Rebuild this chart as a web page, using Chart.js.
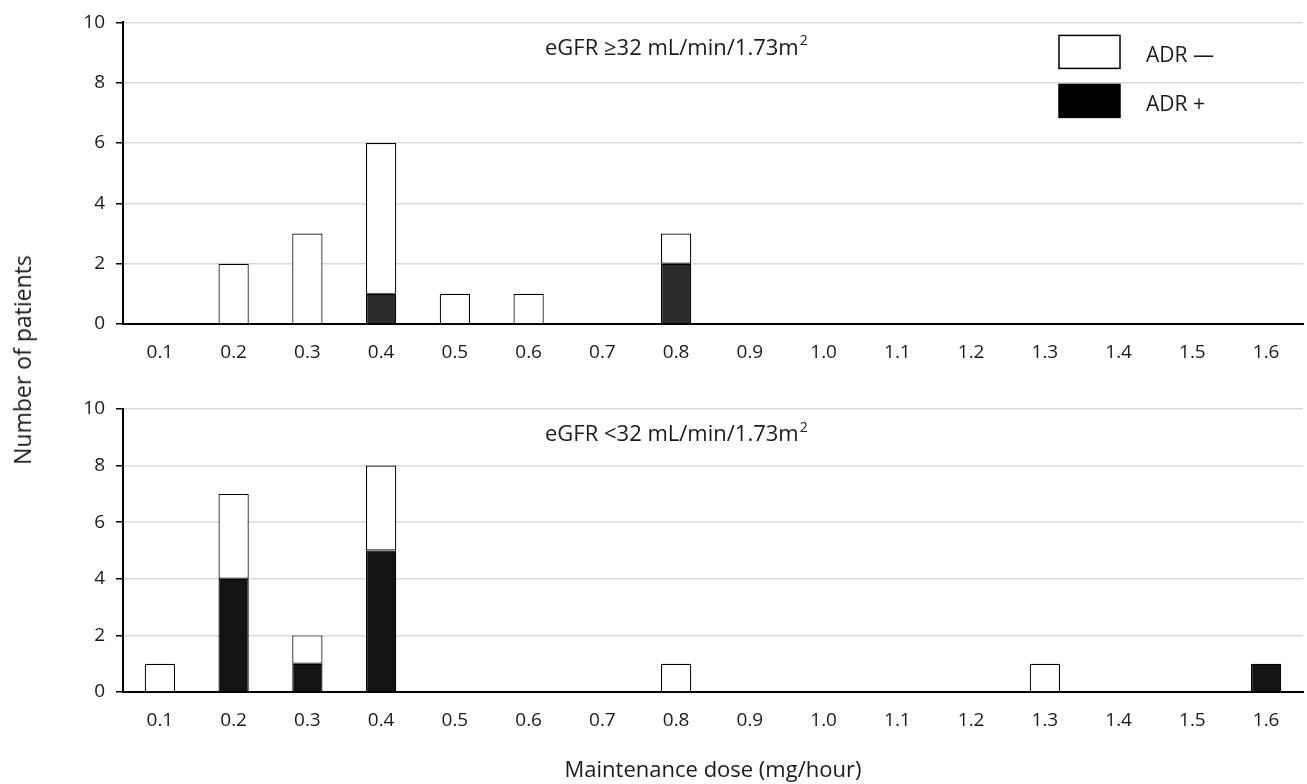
<!DOCTYPE html>
<html>
<head>
<meta charset="utf-8">
<script src="https://cdn.jsdelivr.net/npm/chart.js@4/dist/chart.umd.min.js"></script>
<style>
  body { margin: 0; background: #fff; width: 1307px; height: 784px; position: relative; overflow: hidden; }
  #top { position: absolute; left: 0; top: 0; }
  #bottom { position: absolute; left: 0; top: 380px; }
  #ytitle {
    position: absolute; left: 22px; top: 360px;
    transform: translate(-50%, -50%) rotate(-90deg);
    font-family: "Open Sans", sans-serif; font-size: 23px; color: #1a1a1a; white-space: nowrap;
  }
</style>
</head>
<body>
<canvas id="top" width="1307" height="370"></canvas>
<canvas id="bottom" width="1307" height="404"></canvas>
<div id="ytitle">Number of patients</div>
<script>
Chart.defaults.font.family = "'Open Sans', sans-serif";
Chart.defaults.color = '#1a1a1a';

// doses (mg/hour)
const doses = ['0.1', '0.2', '0.3', '0.4', '0.5', '0.6', '0.7', '0.8', '0.9', '1.0', '1.1', '1.2', '1.3', '1.4', '1.5', '1.6'];
// eGFR >= 32
const highPlus  = [0, 0, 0, 1, 0, 0, 0, 2, 0, 0, 0, 0, 0, 0, 0, 0];
const highMinus = [0, 2, 3, 5, 1, 1, 0, 1, 0, 0, 0, 0, 0, 0, 0, 0];
// eGFR < 32
const lowPlus  = [0, 4, 1, 5, 0, 0, 0, 0, 0, 0, 0, 0, 0, 0, 0, 1];
const lowMinus = [1, 3, 1, 3, 0, 0, 0, 1, 0, 0, 0, 0, 1, 0, 0, 0];
const yTicks = [0, 2, 4, 6, 8, 10];
const legendLabels = ['ADR \u2014', 'ADR +'];

// panel caption, drawn inside the plot
const captionPlugin = {
    id: 'caption',
    afterDraw(chart, args, opts) {
        const ctx = chart.ctx;
        const a = chart.chartArea;
        ctx.save();
        ctx.fillStyle = '#1a1a1a';
        ctx.textBaseline = 'middle';
        ctx.font = "22px 'Open Sans', sans-serif";
        let x = a.left + 422;
        const y = a.top + opts.dy;
        ctx.fillText(opts.text, x, y);
        x += ctx.measureText(opts.text).width;
        ctx.font = "14px 'Open Sans', sans-serif";
        ctx.fillText('2', x + 1, y - 7);
        ctx.restore();
    }
};

// legend boxes inside the top plot
const boxLegend = {
    id: 'boxLegend',
    afterDraw(chart, args, opts) {
        if (!opts.show) return;
        const ctx = chart.ctx;
        const a = chart.chartArea;
        ctx.save();
        [1, 0].forEach((k, i) => {
            const x = a.right - 244, y = a.top + 13 + i * 49;
            ctx.fillStyle = k === 1 ? '#ffffff' : '#000000';
            ctx.fillRect(x, y, 61, 33);
            ctx.strokeStyle = '#000';
            ctx.lineWidth = 1.5;
            ctx.strokeRect(x, y, 61, 33);
            ctx.fillStyle = '#1a1a1a';
            ctx.font = "21px 'Open Sans', sans-serif";
            ctx.textBaseline = 'middle';
            ctx.fillText(legendLabels[i], x + 87, y + 21);
        });
        ctx.restore();
    }
};

function barBorder(c) { return c.raw ? 1.2 : 0; }

function panel(id, plus, minus, plusColor, caption, padTop, xHeight, withTitle, legend) {
    return new Chart(document.getElementById(id), {
        type: 'bar',
        data: {
            labels: doses,
            datasets: [{
                label: 'ADR +',
                data: plus,
                backgroundColor: plusColor,
                borderColor: '#000',
                borderWidth: barBorder,
                borderSkipped: 'start'
            }, {
                label: 'ADR \u2014',
                data: minus,
                backgroundColor: '#ffffff',
                borderColor: '#000',
                borderWidth: barBorder,
                borderSkipped: c => plus[c.dataIndex] ? false : 'start'
            }]
        },
        options: {
            responsive: false,
            animation: false,
            categoryPercentage: 1,
            barPercentage: 0.41,
            layout: { padding: { left: 60, right: 4, top: padTop, bottom: 0 } },
            scales: {
                x: {
                    stacked: true,
                    grid: { display: false },
                    border: { display: true, color: '#000', width: 2 },
                    ticks: { font: { size: 19 }, padding: 9, maxRotation: 0 },
                    title: {
                        display: withTitle,
                        text: 'Maintenance dose (mg/hour)',
                        font: { size: 22 },
                        padding: { top: 0, bottom: 0 }
                    },
                    afterFit(s) { s.height = xHeight; }
                },
                y: {
                    stacked: true,
                    min: 0,
                    max: 10,
                    afterBuildTicks(s) { s.ticks = yTicks.map(v => ({ value: v })); },
                    grid: { color: '#d9d9d9', lineWidth: 1.5, tickColor: '#000', tickLength: 7 },
                    border: { display: true, color: '#000', width: 2 },
                    ticks: { font: { size: 19 }, padding: 11 },
                    afterFit(s) { s.width = 63; }
                }
            },
            plugins: {
                legend: { display: false },
                tooltip: { enabled: false },
                caption: { text: caption, dy: 26 },
                boxLegend: { show: legend }
            }
        },
        plugins: [captionPlugin, boxLegend]
    });
}

window.addEventListener('load', () => {
    panel('top', highPlus, highMinus, '#2b2b2b', 'eGFR \u226532 mL/min/1.73m', 20, 46, false, true);
    panel('bottom', lowPlus, lowMinus, '#141414', 'eGFR <32 mL/min/1.73m', 29, 92, true, false);
});
</script>
</body>
</html>
